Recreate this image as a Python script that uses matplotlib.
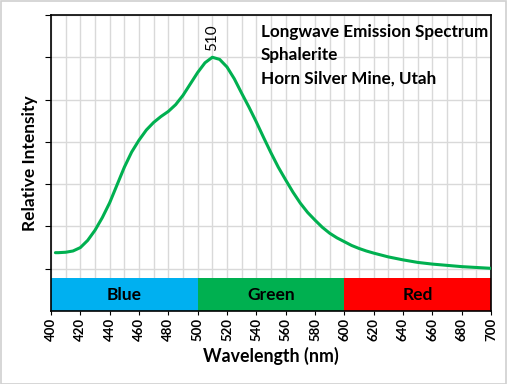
import numpy as np
import matplotlib
matplotlib.use("Agg")
import matplotlib.pyplot as plt
from matplotlib.patches import Rectangle

plt.rcParams['font.family'] = ['Lato', 'DejaVu Sans']

# spectrum (wavelength nm, relative intensity)
wavelength = [403, 405, 410, 415, 420, 425, 430, 435, 440, 445, 450, 455, 460, 465, 470,
              475, 480, 485, 490, 495, 500, 505, 510, 515, 520, 525, 530, 535, 540,
              545, 550, 555, 560, 565, 570, 575, 580, 585, 590, 595, 600, 605, 610,
              615, 620, 630, 640, 650, 660, 670, 680, 690, 700]
intensity = [0.38, 0.38, 0.39, 0.42, 0.50, 0.67, 0.91, 1.21, 1.56, 1.98, 2.40, 2.76, 3.04, 3.28, 3.46,
             3.60, 3.72, 3.88, 4.10, 4.37, 4.64, 4.87, 5.00, 4.95, 4.77, 4.49, 4.15, 3.82, 3.47,
             3.10, 2.74, 2.40, 2.10, 1.81, 1.55, 1.33, 1.15, 0.98, 0.84, 0.73, 0.64, 0.55, 0.48,
             0.42, 0.37, 0.28, 0.21, 0.15, 0.11, 0.08, 0.05, 0.03, 0.01]

peak_wl = 510
peak_val = 5.0

band_names = ["Blue", "Green", "Red"]
band_start = [400, 500, 600]
band_end = [500, 600, 700]
band_colors = ["#00B0F0", "#00B050", "#FF0000"]

title_lines = ["Longwave Emission Spectrum", "Sphalerite", "Horn Silver Mine, Utah"]

fig = plt.figure(figsize=(5.07, 3.84), dpi=100)
fig.patch.set_facecolor("white")
# thin grey frame round the whole picture
fig.add_artist(Rectangle((0.001, 0.001), 0.997, 0.996, transform=fig.transFigure,
                         fill=False, edgecolor="#D0D0D0", linewidth=1.2))

ax = fig.add_axes([0.1006, 0.190, 0.8678, 0.771])
ax.set_xlim(400, 700)
ax.set_ylim(-1, 6)

# grid
ax.set_xticks(np.arange(400, 701, 20))
ax.set_xticks(np.arange(410, 700, 20), minor=True)
ax.set_yticks(np.arange(0, 7, 1))
ax.set_yticklabels([])
ax.grid(True, which="both", axis="x", color="#D9D9D9", linewidth=1.0)
ax.grid(True, which="major", axis="y", color="#D9D9D9", linewidth=1.0)
ax.set_axisbelow(True)

# colour bands
for name, s, e, c in zip(band_names, band_start, band_end, band_colors):
    ax.add_patch(Rectangle((s, -1), e - s, 0.78, facecolor=c, edgecolor="none", zorder=2))
    ax.text((s + e) / 2, -0.63, name, ha="center", va="center", fontsize=12.5,
            fontweight="bold", color="black", zorder=3)

ax.plot(wavelength, intensity, color="#00B050", linewidth=2.2, solid_capstyle="round",
        solid_joinstyle="round", zorder=4)

ax.text(peak_wl, peak_val + 0.16, str(peak_wl), rotation=90, ha="center", va="bottom",
        fontsize=11, color="black")

for i, line in enumerate(title_lines):
    ax.text(0.477, 0.968 - i * 0.077, line, transform=ax.transAxes, ha="left", va="top",
            fontsize=12.3, fontweight="bold", color="black")

for sp in ax.spines.values():
    sp.set_color("black")
    sp.set_linewidth(1.2)

ax.tick_params(axis="x", which="major", direction="out", length=3, labelsize=9.5,
               labelrotation=90, pad=2)
ax.tick_params(axis="x", which="minor", length=0)
ax.tick_params(axis="y", direction="out", length=4)
for lab in ax.get_xticklabels():
    lab.set_fontweight("bold")

ax.set_xlabel("Wavelength (nm)", fontsize=12.8, fontweight="bold", labelpad=4)
ax.set_ylabel("Relative Intensity", fontsize=12.5, fontweight="bold", labelpad=2)

fig.savefig("out.png", dpi=100)
